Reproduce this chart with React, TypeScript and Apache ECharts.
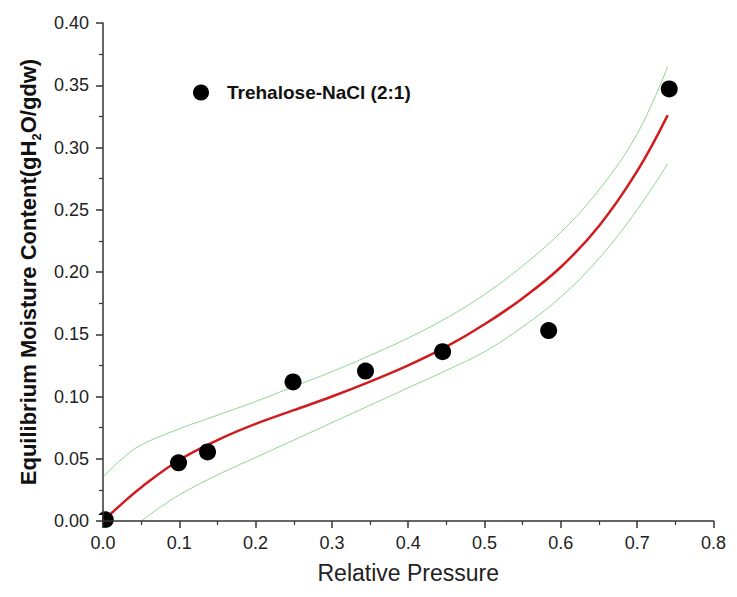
import React, { useEffect, useRef } from "react";
import * as echarts from "echarts";

const seriesName = "Trehalose-NaCl (2:1)";

const pointX = [0.003, 0.099, 0.137, 0.249, 0.344, 0.445, 0.584, 0.742];
const pointY = [0.001, 0.0467, 0.0555, 0.1117, 0.1204, 0.136, 0.153, 0.347];

const fitX = [0, 0.025, 0.05, 0.1, 0.15, 0.2, 0.25, 0.3, 0.35, 0.4, 0.45, 0.5, 0.55, 0.6, 0.65, 0.7, 0.74];
const fitY = [0, 0.014, 0.027, 0.049, 0.065, 0.078, 0.089, 0.1, 0.112, 0.125, 0.14, 0.158, 0.179, 0.204, 0.237, 0.281, 0.326];

const upperX = [0, 0.025, 0.05, 0.1, 0.15, 0.2, 0.25, 0.3, 0.35, 0.4, 0.45, 0.5, 0.55, 0.6, 0.65, 0.7, 0.74];
const upperY = [0.035, 0.05, 0.061, 0.074, 0.085, 0.096, 0.108, 0.12, 0.133, 0.147, 0.163, 0.182, 0.205, 0.232, 0.266, 0.311, 0.365];

const lowerX = [0.05, 0.075, 0.1, 0.15, 0.2, 0.25, 0.3, 0.35, 0.4, 0.45, 0.5, 0.55, 0.6, 0.65, 0.7, 0.74];
const lowerY = [0, 0.011, 0.021, 0.037, 0.051, 0.065, 0.079, 0.093, 0.107, 0.121, 0.136, 0.156, 0.18, 0.211, 0.25, 0.287];

const zip = (xs: number[], ys: number[]) => xs.map((x, i) => [x, ys[i]]);

const FONT = "Liberation Sans, Arial, sans-serif";

const W = 721;
const H = 581;
const G_LEFT = 95;
const G_TOP = 15;
const G_RIGHT = 10;
const G_BOTTOM = 62;

export default function App() {
  const ref = useRef<HTMLDivElement>(null);
  useEffect(() => {
    if (!ref.current) return;
    const chart = echarts.init(ref.current, undefined, { renderer: "svg" });
    const axisColor = "#333";
    const ox = G_LEFT;
    const oy = H - G_BOTTOM;
    chart.setOption({
      animation: false,
      backgroundColor: "#fff",
      grid: { left: G_LEFT, top: G_TOP, right: G_RIGHT, bottom: G_BOTTOM, containLabel: false },
      graphic: [
        {
          type: "rect",
          z: 50,
          silent: true,
          shape: { x: ox - 12, y: oy - 12, width: 11.2, height: 24 },
          style: { fill: "#fff" },
        },
        {
          type: "rect",
          z: 50,
          silent: true,
          shape: { x: ox - 12, y: oy + 0.8, width: 24, height: 11 },
          style: { fill: "#fff" },
        },
      ],
      legend: {
        data: [{ name: seriesName, icon: "circle" }],
        left: 180,
        top: 70,
        itemWidth: 16,
        itemHeight: 16,
        textStyle: {
          fontFamily: FONT,
          fontWeight: "bold",
          fontSize: 19,
          color: "#111",
          padding: [0, 0, 0, 13],
        },
      },
      xAxis: {
        type: "value",
        z: 60,
        min: 0,
        max: 0.8,
        interval: 0.1,
        name: "Relative Pressure",
        nameLocation: "middle",
        nameGap: 40,
        nameTextStyle: { fontFamily: FONT, fontSize: 23, color: "#222" },
        axisLine: { show: true, lineStyle: { color: axisColor, width: 1.5 } },
        axisTick: { show: true, inside: false, length: 7, lineStyle: { color: axisColor, width: 1.5 } },
        minorTick: { show: true, splitNumber: 2, length: 4, lineStyle: { color: axisColor, width: 1.2 } },
        splitLine: { show: false },
        axisLabel: {
          fontFamily: FONT,
          fontSize: 18,
          color: "#222",
          margin: 13,
          formatter: (v: number) => v.toFixed(1),
        },
      },
      yAxis: {
        type: "value",
        z: 60,
        min: 0,
        max: 0.4,
        interval: 0.05,
        name: "{a|Equilibrium Moisture Content(gH}{s|2}{a|O/gdw)}",
        nameLocation: "middle",
        nameGap: 60,
        nameTextStyle: {
          rich: {
            a: { fontFamily: FONT, fontSize: 22, fontWeight: "bold", color: "#111", lineHeight: 30 },
            s: {
              fontFamily: FONT,
              fontSize: 13,
              fontWeight: "bold",
              color: "#111",
              lineHeight: 13,
              verticalAlign: "bottom",
            },
          },
        },
        axisLine: { show: true, lineStyle: { color: axisColor, width: 1.5 } },
        axisTick: { show: true, inside: false, length: 7, lineStyle: { color: axisColor, width: 1.5 } },
        minorTick: { show: true, splitNumber: 2, length: 4, lineStyle: { color: axisColor, width: 1.2 } },
        splitLine: { show: false },
        axisLabel: {
          fontFamily: FONT,
          fontSize: 18,
          color: "#222",
          margin: 14,
          formatter: (v: number) => v.toFixed(2),
        },
      },
      series: [
        {
          name: "upper",
          type: "line",
          data: zip(upperX, upperY),
          smooth: 0.4,
          showSymbol: false,
          lineStyle: { color: "#8fd68f", width: 1 },
          z: 2,
        },
        {
          name: "lower",
          type: "line",
          data: zip(lowerX, lowerY),
          smooth: 0.4,
          showSymbol: false,
          lineStyle: { color: "#8fd68f", width: 1 },
          z: 2,
        },
        {
          name: "fit",
          type: "line",
          data: zip(fitX, fitY),
          smooth: 0.4,
          showSymbol: false,
          lineStyle: { color: "#d01c1f", width: 2.5 },
          z: 3,
        },
        {
          name: seriesName,
          type: "scatter",
          data: zip(pointX, pointY),
          symbol: "circle",
          symbolSize: 17,
          itemStyle: { color: "#000", opacity: 1 },
          clip: true,
          z: 4,
        },
      ],
    });
    return () => chart.dispose();
  }, []);
  return <div ref={ref} style={{ width: W, height: H }} />;
}
